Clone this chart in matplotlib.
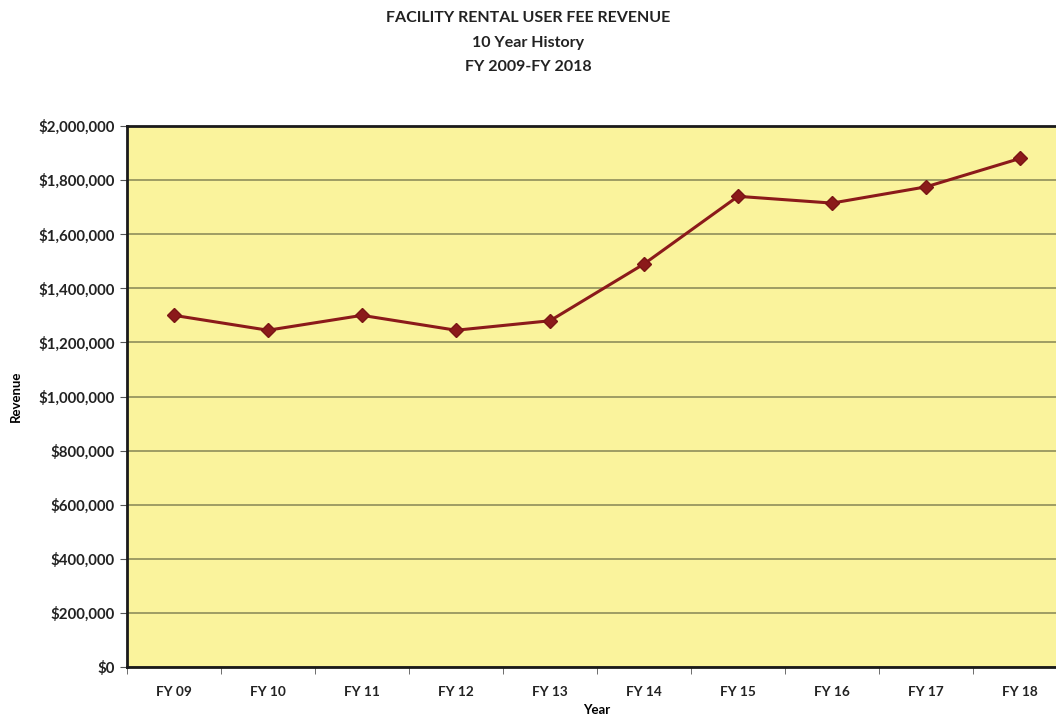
import matplotlib
matplotlib.use("Agg")
import matplotlib.pyplot as plt
from matplotlib.ticker import FuncFormatter, FixedLocator

plt.rcParams["font.family"] = ["Lato", "DejaVu Sans"]

years = ["FY 09", "FY 10", "FY 11", "FY 12", "FY 13",
         "FY 14", "FY 15", "FY 16", "FY 17", "FY 18"]
revenue = [1300000, 1245000, 1300000, 1245000, 1280000,
           1490000, 1740000, 1715000, 1775000, 1880000]
y_ticks = list(range(0, 2000001, 200000))

fig = plt.figure(figsize=(10.56, 7.17), dpi=100)
ax = fig.add_axes([127 / 1056, 1 - 667 / 717, 940 / 1056, 541 / 717])
ax.set_facecolor("#FAF39C")

x = list(range(len(years)))
ax.plot(x, revenue, color="#8B1A1A", lw=2.2, marker="D", ms=7,
        markerfacecolor="#8B1A1A", markeredgecolor="#7A1515", zorder=3)

ax.set_xlim(-0.5, len(years) - 0.5)
ax.set_ylim(0, 2000000)
ax.set_yticks(y_ticks)
ax.yaxis.set_major_formatter(FuncFormatter(lambda v, p: f"${v:,.0f}"))
ax.grid(axis="y", color="#8E8E5A", lw=1.2)
ax.set_axisbelow(True)

ax.set_xticks(x)
ax.set_xticklabels(years)
ax.xaxis.set_minor_locator(FixedLocator([i - 0.5 for i in range(len(years) + 1)]))
ax.tick_params(axis="x", which="major", length=0, pad=14)
ax.tick_params(axis="x", which="minor", length=5, color="#555555", direction="out")
ax.tick_params(axis="y", length=5, color="#555555", pad=4)
for lbl in ax.get_xticklabels():
    lbl.set_fontweight("bold")
    lbl.set_fontsize(9.8)
    lbl.set_color("#222222")
for lbl in ax.get_yticklabels():
    lbl.set_fontweight("bold")
    lbl.set_fontsize(10.8)
    lbl.set_color("#222222")

for s in ["left", "bottom", "top"]:
    ax.spines[s].set_linewidth(2)
    ax.spines[s].set_color("#1a1a1a")
ax.spines["right"].set_visible(False)

ax.set_ylabel("Revenue", fontsize=9.5, fontweight="bold")
ax.set_xlabel("Year", fontsize=9.5, fontweight="bold")
ax.yaxis.set_label_coords(-105 / 940, 0.5)
ax.xaxis.set_label_coords(0.5, -(704 - 667) / 541)

fig.text(0.5, 1 - 18 / 717, "FACILITY RENTAL USER FEE REVENUE", ha="center", va="center",
         fontsize=11.5, fontweight="bold", color="#222222")
fig.text(0.5, 1 - 43 / 717, "10 Year History", ha="center", va="center",
         fontsize=11.5, fontweight="bold", color="#222222")
fig.text(0.5, 1 - 67 / 717, "FY 2009-FY 2018", ha="center", va="center",
         fontsize=11.5, fontweight="bold", color="#222222")

fig.savefig("out.png", dpi=100)
